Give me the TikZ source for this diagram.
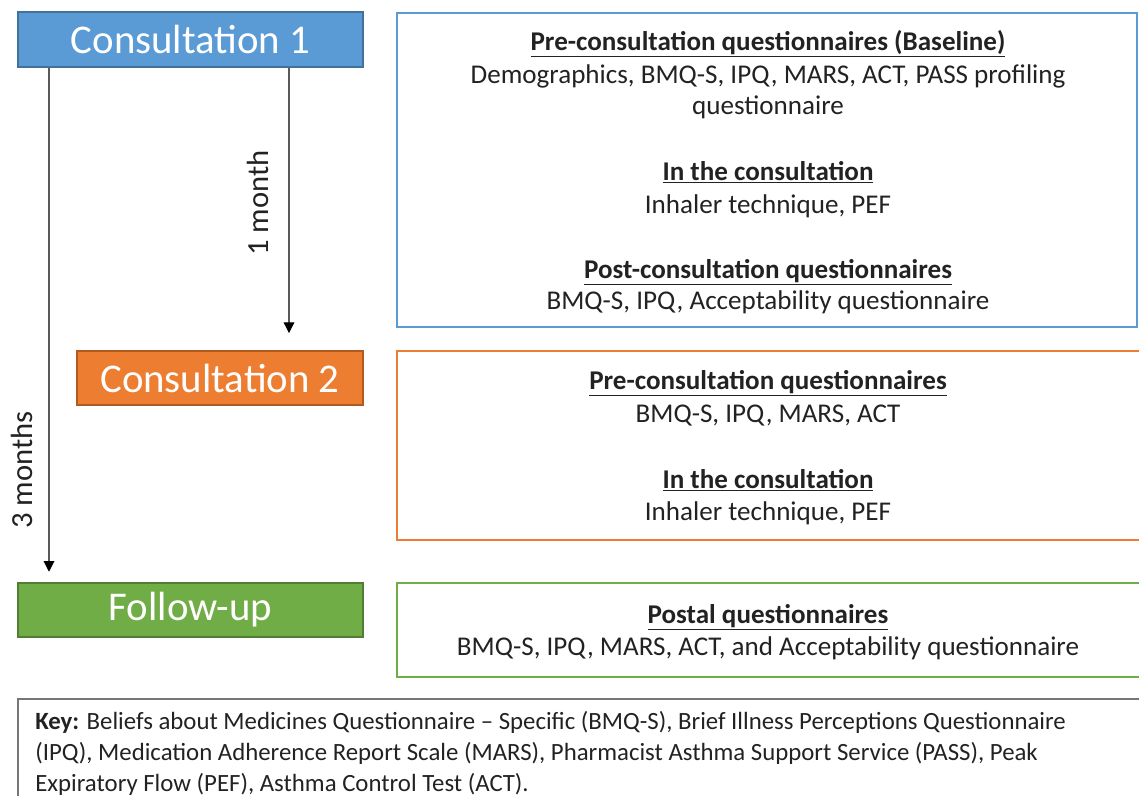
\documentclass[tikz,border=0pt]{standalone}
\usepackage{fontspec}
\setmainfont{Carlito}
\usetikzlibrary{arrows.meta}
\definecolor{cblue}{HTML}{5B9BD5}
\definecolor{cblueD}{HTML}{41719C}
\definecolor{corange}{HTML}{ED7D31}
\definecolor{corangeD}{HTML}{AE5A21}
\definecolor{cgreen}{HTML}{70AD47}
\definecolor{cgreenD}{HTML}{507E32}
\definecolor{keygray}{HTML}{767676}
\definecolor{txt}{HTML}{222222}
\definecolor{linegray}{HTML}{595959}
\begin{document}
\begin{tikzpicture}[x=0.75pt,y=-0.75pt,
  stagebox/.style={draw, line width=0.9pt, inner sep=0pt, text=white,
    font=\fontsize{30.6}{36}\selectfont},
  infobox/.style={line width=0.9pt},
  head/.style={anchor=base, text=txt, inner sep=0pt, font=\fontsize{20.3}{24}\selectfont\bfseries},
  body/.style={anchor=base, text=txt, inner sep=0pt, font=\fontsize{20.3}{24}\selectfont},
  keytext/.style={anchor=base west, text=txt, inner sep=0pt, font=\fontsize{18.6}{22}\selectfont},
  period/.style={text=txt, inner sep=0pt, rotate=90, font=\fontsize{23}{26}\selectfont},
  arr/.style={draw=linegray, line width=0.8pt, -{Triangle[width=8pt,length=8pt,color=black]}}
]
\useasboundingbox (0,0) rectangle (1139,796);

% stage boxes
\node[stagebox, fill=cblue, draw=cblueD, minimum width=258.75pt, minimum height=41.25pt]
  (c1) at (190.5,39.5) {Consultation 1};
\node[stagebox, fill=corange, draw=corangeD, minimum width=214.5pt, minimum height=40.5pt]
  (c2) at (220,378) {Consultation 2};
\node[stagebox, fill=cgreen, draw=cgreenD, minimum width=258.75pt, minimum height=40.5pt]
  (fu) at (190.5,610) {Follow-up};

% detail panels
\draw[infobox, draw=cblue] (397,13) rectangle (1137,327);
\draw[infobox, draw=corange] (1150,351) -- (397,351) -- (397,540) -- (1150,540);
\draw[infobox, draw=cgreen] (1150,583) -- (397,583) -- (397,677) -- (1150,677);
\draw[infobox, draw=keygray] (1150,699) -- (18,699) -- (18,800);

% first consultation details
\node[head] (p1h) at (768,50) {\underline{Pre-consultation questionnaires (Baseline)}};
\node[body] (p1a) at (768,83) {Demographics, BMQ-S, IPQ, MARS, ACT, PASS profiling};
\node[body] (p1b) at (768,114) {questionnaire};
\node[head] (i1h) at (768,180) {\underline{In the consultation}};
\node[body] (i1a) at (768,213) {Inhaler technique, PEF};
\node[head] (q1h) at (768,278) {\underline{Post-consultation questionnaires}};
\node[body] (q1a) at (768,309) {BMQ-S, IPQ, Acceptability questionnaire};

% second consultation details
\node[head] (p2h) at (768,389) {\underline{Pre-consultation questionnaires}};
\node[body] (p2a) at (768,422) {BMQ-S, IPQ, MARS, ACT};
\node[head] (i2h) at (768,488) {\underline{In the consultation}};
\node[body] (i2a) at (768,520) {Inhaler technique, PEF};

% follow-up details
\node[head] (f1h) at (768,623) {\underline{Postal questionnaires}};
\node[body] (f1a) at (768,655) {BMQ-S, IPQ, MARS, ACT, and Acceptability questionnaire};

% key
\node[keytext] (k1) at (35,729) {\textbf{Key:} Beliefs about Medicines Questionnaire – Specific (BMQ-S), Brief Illness Perceptions Questionnaire};
\node[keytext] (k2) at (35,760) {(IPQ), Medication Adherence Report Scale (MARS), Pharmacist Asthma Support Service (PASS), Peak};
\node[keytext] (k3) at (35,791) {Expiratory Flow (PEF), Asthma Control Test (ACT).};

% time intervals
\coordinate (xl) at (49,0);
\coordinate (xr) at (289,0);
\draw[arr, shorten >=8pt] (c1.south -| xl) -- (fu.north -| xl);
\draw[arr, shorten >=13pt] (c1.south -| xr) -- (c2.north -| xr);
\node[period] (m3) at (22,470) {3 months};
\node[period] (m1) at (258,203) {1 month};
\end{tikzpicture}
\end{document}
